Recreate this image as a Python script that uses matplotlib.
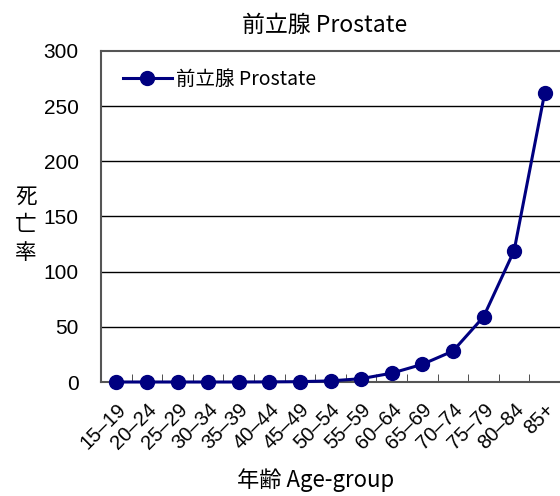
import numpy as np
import matplotlib
matplotlib.use("Agg")
import matplotlib.pyplot as plt

plt.rcParams['font.family'] = ['Noto Sans CJK JP', 'DejaVu Sans']

ages = ["15\u201319", "20\u201324", "25\u201329", "30\u201334", "35\u201339",
        "40\u201344", "45\u201349", "50\u201354", "55\u201359", "60\u201364",
        "65\u201369", "70\u201374", "75\u201379", "80\u201384", "85+"]
rates = [0.0, 0.0, 0.0, 0.0, 0.0, 0.1, 0.3, 1.0, 3.0, 8.0,
         16.0, 28.0, 59.0, 119.0, 262.0]

navy = "#000080"
W, H = 560, 496

fig = plt.figure(figsize=(5.6, 4.96), dpi=100)
ax = fig.add_axes([101 / W, 1 - 382 / H, 459 / W, 331 / H])

x = np.arange(len(ages))
ax.plot(x, rates, '-o', color=navy, lw=2.2, markersize=10, label="前立腺 Prostate",
        clip_on=False, zorder=3)

ax.set_xlim(-0.5, len(ages) - 0.5)
ax.set_ylim(0, 300)
ax.set_yticks([0, 50, 100, 150, 200, 250, 300])
for y in [50, 100, 150, 200, 250]:
    ax.axhline(y, color="black", lw=1, zorder=1)

ax.set_xticks(x)
ax.set_xticklabels(ages, rotation=45, ha='right', rotation_mode='anchor',
                   fontsize=14.5, family=['Liberation Sans', 'DejaVu Sans'])
ax.tick_params(axis='x', length=0, pad=13)
ax.set_xticks(np.arange(0.5, len(ages) - 0.5), minor=True)
ax.tick_params(axis='x', which='minor', direction='in', length=6, color='#333333')
ax.tick_params(axis='y', length=0, labelsize=15, pad=16)
for lab in ax.get_yticklabels():
    lab.set_family(['Liberation Sans', 'DejaVu Sans'])

ax.spines['right'].set_visible(False)
for s in ['left', 'bottom', 'top']:
    ax.spines[s].set_color('#555555')
    ax.spines[s].set_linewidth(1.5)

fig.text(325 / W, 1 - 25 / H, "前立腺 Prostate", fontsize=16.5, ha='center', va='center')
fig.text(316 / W, 1 - 480 / H, "年齢 Age-group", fontsize=16, ha='center', va='center')
fig.text(26 / W, 1 - 225 / H, "死\n亡\n率", fontsize=15.5, ha='center',
         va='center', linespacing=1.35)

ax.legend(loc='upper left', bbox_to_anchor=(0.01, 1.0), frameon=False,
          fontsize=14, handlelength=2.5, handletextpad=0.2)

fig.savefig("out.png", dpi=100)
